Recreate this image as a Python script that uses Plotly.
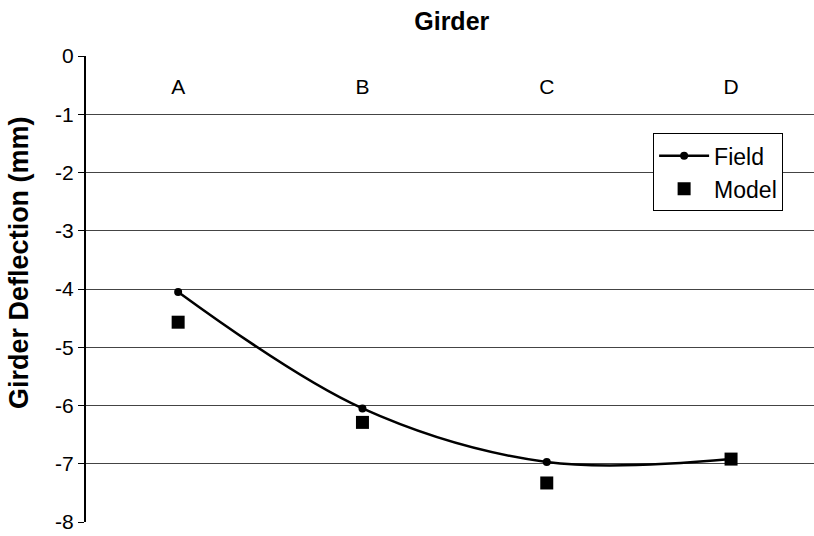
import plotly.graph_objects as go

# Girder labels and deflections (mm)
girders = ["A", "B", "C", "D"]
field_deflection = [-4.05, -6.05, -6.97, -6.92]
model_deflection = [-4.57, -6.29, -7.33, -6.92]

y_ticks = [0, -1, -2, -3, -4, -5, -6, -7, -8]
y_tick_text = ["0", "-1", "-2", "-3", "-4", "-5", "-6", "-7", "-8"]

FONT = "Liberation Sans, Arial, sans-serif"

fig = go.Figure()

fig.add_trace(go.Scatter(
    x=girders, y=field_deflection, name="Field",
    mode="lines+markers",
    line=dict(color="black", width=2.5, shape="spline", smoothing=1),
    marker=dict(color="black", size=8, symbol="circle"),
))
fig.add_trace(go.Scatter(
    x=girders, y=model_deflection, name="Model",
    mode="markers",
    marker=dict(color="black", size=13, symbol="square"),
))

fig.update_layout(
    width=814, height=536,
    margin=dict(l=86, r=0, t=56, b=14),
    paper_bgcolor="white", plot_bgcolor="white",
    font=dict(family=FONT, color="black", size=21),
    title=dict(text="<b>Girder</b>", x=0.555, xanchor="center",
               y=0.96, yanchor="middle", font=dict(size=25)),
    showlegend=True,
    legend=dict(
        x=0.779, y=0.834, xanchor="left", yanchor="top",
        bgcolor="white", bordercolor="black", borderwidth=1,
        font=dict(size=23), tracegroupgap=0, itemwidth=50,
    ),
    xaxis=dict(
        type="category", range=[-0.5, 3.45],
        side="bottom", anchor="free", position=0.966,
        showline=False, showgrid=False, zeroline=False,
        ticks="", tickfont=dict(size=21),
    ),
    yaxis=dict(
        range=[-8, 0], tickvals=y_ticks, ticktext=y_tick_text,
        showline=True, linecolor="black", linewidth=2,
        ticks="outside", ticklen=6, tickcolor="black",
        showgrid=True, gridcolor="#444444", gridwidth=1,
        zeroline=False, tickfont=dict(size=21),
    ),
    annotations=[dict(
        text="<b>Girder Deflection (mm)</b>", textangle=-90,
        xref="paper", yref="paper", x=-0.092, y=0.556,
        xanchor="center", yanchor="middle", showarrow=False,
        font=dict(size=27),
    )],
)

fig.write_html("out.html")
